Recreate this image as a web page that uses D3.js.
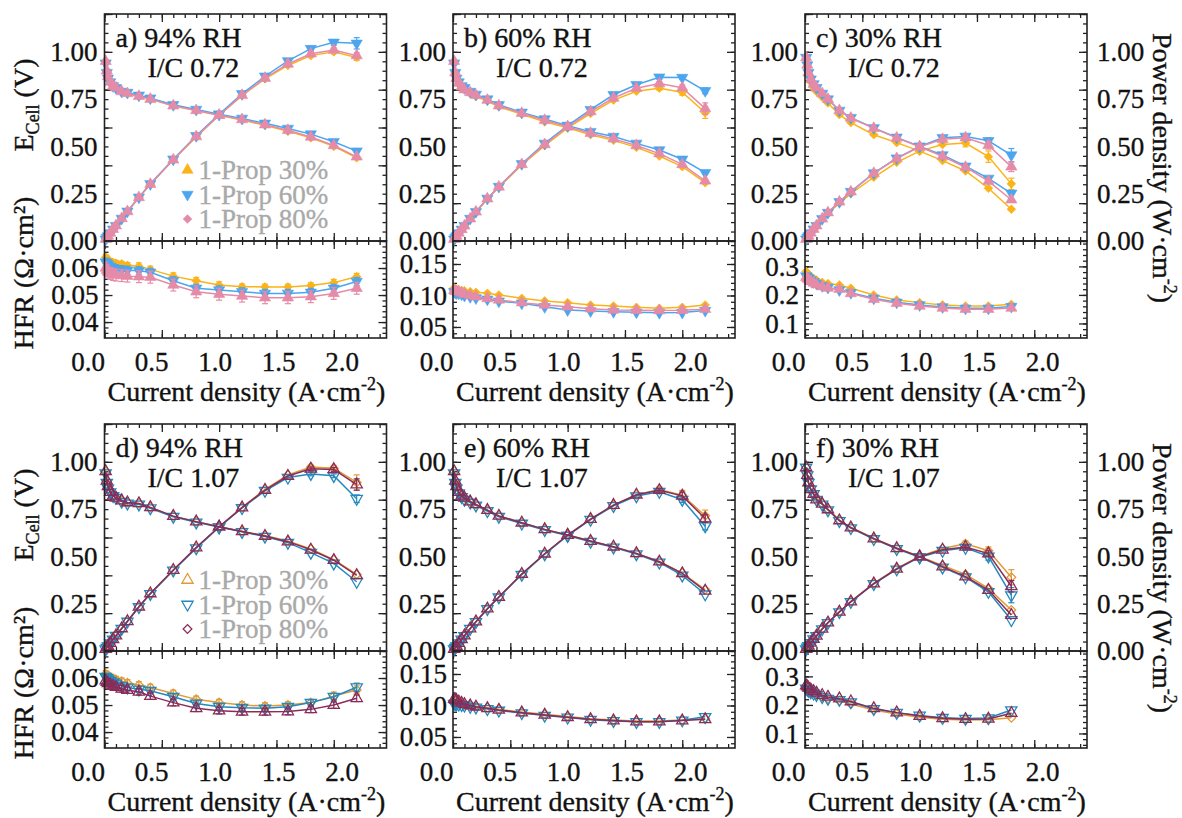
<!DOCTYPE html>
<html lang="en">
<head>
<meta charset="UTF-8">
<title>Polarization, power density and HFR</title>
<script src="https://d3js.org/d3.v7.min.js"></script>
<style>
  body { margin: 0; background: #fff; }
  svg text { font-family: "Liberation Serif", serif; fill: #111; stroke: #111; stroke-width: 0.35px; }
  svg text.legend-text { fill: #a9a9a9; stroke: #a9a9a9; }
</style>
</head>
<body>
<svg id="chart" width="1182" height="818" font-family="Liberation Serif"></svg>
<script>
// current densities (A cm-2)
const CURRENT_FULL = [0.01, 0.02, 0.03, 0.05, 0.075, 0.1, 0.15, 0.2, 0.3, 0.4, 0.6, 0.8, 1.0, 1.2, 1.4, 1.6, 1.8, 2.0, 2.2];
const CURRENT_SHORT = [0.01, 0.02, 0.03, 0.05, 0.075, 0.1, 0.15, 0.2, 0.3, 0.4, 0.6, 0.8, 1.0, 1.2, 1.4, 1.6, 1.8];

const SERIES = ["1-Prop 30%", "1-Prop 60%", "1-Prop 80%"];
const COLORS_TOP = ["#fbb317", "#4ba5ef", "#e68ba7"];
const COLORS_BOTTOM = ["#e29a36", "#2388be", "#8a2c58"];

// a) 94% RH, I/C 0.72
const A_E30 = [0.95, 0.90, 0.87, 0.84, 0.82, 0.81, 0.79, 0.78, 0.765, 0.75, 0.715, 0.69, 0.665, 0.64, 0.612, 0.58, 0.545, 0.50, 0.44];
const A_E60 = [0.94, 0.89, 0.86, 0.84, 0.82, 0.81, 0.79, 0.785, 0.77, 0.755, 0.72, 0.695, 0.67, 0.648, 0.622, 0.595, 0.565, 0.525, 0.475];
const A_E80 = [0.95, 0.90, 0.87, 0.84, 0.82, 0.81, 0.79, 0.78, 0.765, 0.75, 0.715, 0.69, 0.665, 0.642, 0.615, 0.585, 0.55, 0.505, 0.445];
const A_P30 = [0.0095, 0.018, 0.026, 0.042, 0.062, 0.081, 0.119, 0.156, 0.23, 0.30, 0.43, 0.55, 0.665, 0.77, 0.857, 0.928, 0.98, 1.00, 0.97];
const A_P60 = [0.0094, 0.018, 0.026, 0.042, 0.062, 0.081, 0.119, 0.157, 0.231, 0.302, 0.432, 0.556, 0.67, 0.778, 0.871, 0.952, 1.017, 1.05, 1.045];
const A_P80 = [0.0095, 0.018, 0.026, 0.042, 0.062, 0.081, 0.119, 0.156, 0.23, 0.30, 0.429, 0.552, 0.665, 0.77, 0.861, 0.936, 0.99, 1.01, 0.98];
const A_H30 = [0.0640, 0.0635, 0.0630, 0.0625, 0.0620, 0.0618, 0.0615, 0.0610, 0.0607, 0.0595, 0.0570, 0.0553, 0.0537, 0.0531, 0.0530, 0.0530, 0.0535, 0.0546, 0.0568];
const A_H60 = [0.0622, 0.0618, 0.0612, 0.0606, 0.0600, 0.0597, 0.0594, 0.0592, 0.0590, 0.0584, 0.0553, 0.0525, 0.0519, 0.0512, 0.0506, 0.0506, 0.0510, 0.0525, 0.0550];
const A_H80 = [0.0600, 0.0592, 0.0585, 0.0580, 0.0576, 0.0574, 0.0572, 0.0570, 0.0568, 0.0566, 0.0537, 0.0512, 0.0503, 0.0496, 0.0490, 0.0490, 0.0494, 0.0506, 0.0525];
const A_HERR30 = [0.001, 0.001, 0.001, 0.001, 0.001, 0.001, 0.001, 0.001, 0.0012, 0.0012, 0.0012, 0.0012, 0.0012, 0.001, 0.001, 0.001, 0.001, 0.0012, 0.0012];
const A_HERR60 = [0.0015, 0.0015, 0.0015, 0.0015, 0.0015, 0.0015, 0.0015, 0.0015, 0.0015, 0.0015, 0.0015, 0.0015, 0.0015, 0.0015, 0.0015, 0.0015, 0.0015, 0.0015, 0.0015];
const A_HERR80 = [0.0022, 0.0022, 0.0022, 0.0022, 0.0022, 0.0022, 0.0022, 0.0022, 0.0022, 0.0022, 0.0022, 0.0022, 0.0022, 0.0022, 0.0022, 0.0022, 0.0022, 0.0022, 0.0022];
const A_PERR = [[0.01, 0.01, 0.015], [0.01, 0.015, 0.03], [0.01, 0.01, 0.015]];

// b) 60% RH, I/C 0.72
const B_E30 = [0.95, 0.89, 0.86, 0.83, 0.81, 0.80, 0.78, 0.765, 0.74, 0.71, 0.67, 0.63, 0.598, 0.562, 0.532, 0.495, 0.449, 0.393, 0.308];
const B_E60 = [0.94, 0.89, 0.86, 0.84, 0.82, 0.81, 0.79, 0.775, 0.75, 0.72, 0.68, 0.645, 0.61, 0.578, 0.552, 0.516, 0.481, 0.432, 0.361];
const B_E80 = [0.95, 0.89, 0.86, 0.835, 0.815, 0.80, 0.785, 0.77, 0.745, 0.715, 0.675, 0.638, 0.604, 0.57, 0.54, 0.505, 0.462, 0.405, 0.318];
const B_P30 = [0.0095, 0.0178, 0.0258, 0.0415, 0.0608, 0.08, 0.117, 0.153, 0.222, 0.284, 0.402, 0.504, 0.598, 0.674, 0.745, 0.792, 0.808, 0.786, 0.678];
const B_P60 = [0.0094, 0.0178, 0.0258, 0.042, 0.0615, 0.081, 0.1185, 0.155, 0.225, 0.288, 0.408, 0.516, 0.61, 0.694, 0.773, 0.826, 0.866, 0.864, 0.794];
const B_P80 = [0.0095, 0.0178, 0.0258, 0.0418, 0.0611, 0.08, 0.1178, 0.154, 0.2235, 0.286, 0.405, 0.51, 0.604, 0.684, 0.756, 0.808, 0.832, 0.81, 0.70];
const B_H30 = [0.112, 0.111, 0.110, 0.109, 0.108, 0.1075, 0.106, 0.105, 0.1035, 0.1008, 0.0955, 0.0913, 0.0886, 0.0849, 0.0833, 0.0812, 0.0797, 0.0812, 0.0849];
const B_H60 = [0.106, 0.105, 0.104, 0.1035, 0.102, 0.100, 0.098, 0.096, 0.094, 0.091, 0.0876, 0.082, 0.077, 0.0755, 0.0743, 0.0735, 0.0727, 0.073, 0.076];
const B_H80 = [0.108, 0.107, 0.1065, 0.106, 0.104, 0.102, 0.100, 0.098, 0.0953, 0.093, 0.0886, 0.085, 0.082, 0.079, 0.077, 0.0765, 0.076, 0.0765, 0.078];
const B_PERR = [[0.01, 0.015, 0.03], [0.01, 0.01, 0.015], [0.01, 0.015, 0.03]];

// c) 30% RH, I/C 0.72
const C_E30 = [0.96, 0.92, 0.88, 0.84, 0.81, 0.79, 0.76, 0.73, 0.668, 0.626, 0.562, 0.52, 0.475, 0.425, 0.37, 0.279, 0.168];
const C_E60 = [0.97, 0.93, 0.89, 0.855, 0.83, 0.81, 0.78, 0.75, 0.69, 0.652, 0.598, 0.548, 0.50, 0.455, 0.395, 0.331, 0.252];
const C_E80 = [0.97, 0.93, 0.89, 0.855, 0.83, 0.81, 0.78, 0.75, 0.69, 0.65, 0.596, 0.545, 0.498, 0.448, 0.39, 0.316, 0.218];
const C_P30 = [0.0096, 0.0184, 0.0264, 0.042, 0.0608, 0.079, 0.114, 0.146, 0.20, 0.25, 0.337, 0.416, 0.475, 0.51, 0.518, 0.446, 0.302];
const C_P60 = [0.0097, 0.0186, 0.0267, 0.0428, 0.0623, 0.081, 0.117, 0.15, 0.207, 0.261, 0.359, 0.438, 0.50, 0.546, 0.553, 0.53, 0.454];
const C_P80 = [0.0097, 0.0186, 0.0267, 0.0428, 0.0623, 0.081, 0.117, 0.15, 0.207, 0.26, 0.358, 0.436, 0.498, 0.538, 0.546, 0.506, 0.392];
const C_H30 = [0.282, 0.278, 0.273, 0.265, 0.258, 0.252, 0.244, 0.24, 0.235, 0.2235, 0.20, 0.1825, 0.173, 0.165, 0.161, 0.161, 0.167];
const C_H60 = [0.266, 0.262, 0.258, 0.252, 0.246, 0.24, 0.232, 0.226, 0.2175, 0.208, 0.188, 0.174, 0.165, 0.158, 0.153, 0.153, 0.159];
const C_H80 = [0.262, 0.258, 0.254, 0.248, 0.242, 0.236, 0.229, 0.224, 0.22, 0.205, 0.185, 0.171, 0.161, 0.154, 0.150, 0.150, 0.154];
const C_PERR = [[0.02, 0.03, 0.03], [0.01, 0.015, 0.035], [0.015, 0.02, 0.025]];

// d) 94% RH, I/C 1.07
const D_E30 = [0.95, 0.90, 0.87, 0.84, 0.82, 0.81, 0.795, 0.785, 0.78, 0.759, 0.713, 0.684, 0.657, 0.633, 0.61, 0.582, 0.54, 0.483, 0.405];
const D_E60 = [0.94, 0.89, 0.86, 0.84, 0.82, 0.81, 0.79, 0.78, 0.775, 0.755, 0.71, 0.68, 0.655, 0.63, 0.605, 0.573, 0.52, 0.463, 0.366];
const D_E80 = [0.95, 0.90, 0.87, 0.84, 0.82, 0.81, 0.795, 0.785, 0.78, 0.759, 0.713, 0.684, 0.657, 0.632, 0.608, 0.578, 0.535, 0.48, 0.40];
const D_P30 = [0.0095, 0.018, 0.0261, 0.042, 0.0615, 0.081, 0.119, 0.157, 0.234, 0.304, 0.428, 0.547, 0.657, 0.76, 0.854, 0.931, 0.972, 0.966, 0.891];
const D_P60 = [0.0094, 0.0178, 0.0258, 0.042, 0.0615, 0.081, 0.1185, 0.156, 0.2325, 0.302, 0.426, 0.544, 0.655, 0.756, 0.847, 0.917, 0.936, 0.926, 0.805];
const D_P80 = [0.0095, 0.018, 0.0261, 0.042, 0.0615, 0.081, 0.119, 0.157, 0.234, 0.304, 0.428, 0.547, 0.657, 0.758, 0.851, 0.925, 0.963, 0.96, 0.88];
const D_H30 = [0.0615, 0.0612, 0.0608, 0.0602, 0.0598, 0.0594, 0.0588, 0.0582, 0.0574, 0.0565, 0.0543, 0.0521, 0.0509, 0.050, 0.0496, 0.050, 0.0509, 0.0533, 0.0556];
const D_H60 = [0.0605, 0.0600, 0.0595, 0.0590, 0.0585, 0.0580, 0.0572, 0.0565, 0.0558, 0.0553, 0.0531, 0.0506, 0.0494, 0.049, 0.0488, 0.0494, 0.0509, 0.0531, 0.0566];
const D_H80 = [0.0590, 0.0585, 0.0580, 0.0575, 0.0570, 0.0566, 0.0560, 0.0555, 0.0549, 0.0533, 0.0509, 0.0488, 0.0479, 0.0475, 0.0475, 0.0476, 0.0484, 0.050, 0.0525];
const D_HERR30 = [0.0012, 0.0012, 0.0012, 0.0012, 0.0012, 0.0012, 0.0012, 0.0012, 0.0012, 0.0012, 0.0012, 0.0012, 0.0012, 0.0012, 0.0012, 0.0012, 0.0012, 0.0015, 0.0015];
const D_HERR60 = [0.001, 0.001, 0.001, 0.001, 0.001, 0.001, 0.001, 0.001, 0.001, 0.001, 0.001, 0.001, 0.001, 0.001, 0.001, 0.001, 0.001, 0.0012, 0.0015];
const D_HERR80 = [0.0012, 0.0012, 0.0012, 0.0012, 0.0012, 0.0012, 0.0012, 0.0012, 0.0012, 0.0012, 0.0012, 0.0012, 0.0012, 0.0012, 0.0012, 0.0012, 0.0012, 0.0012, 0.0012];
const D_PERR = [[0.01, 0.015, 0.04], [0.01, 0.01, 0.02], [0.01, 0.01, 0.03]];

// e) 60% RH, I/C 1.07
const E_E30 = [0.95, 0.90, 0.87, 0.84, 0.82, 0.81, 0.79, 0.775, 0.745, 0.714, 0.678, 0.643, 0.613, 0.581, 0.551, 0.516, 0.474, 0.412, 0.325];
const E_E60 = [0.94, 0.89, 0.86, 0.835, 0.815, 0.80, 0.785, 0.77, 0.74, 0.71, 0.674, 0.64, 0.61, 0.578, 0.548, 0.512, 0.468, 0.40, 0.30];
const E_E80 = [0.95, 0.90, 0.87, 0.84, 0.82, 0.81, 0.79, 0.775, 0.745, 0.714, 0.678, 0.643, 0.613, 0.581, 0.551, 0.516, 0.472, 0.41, 0.318];
const E_P30 = [0.0095, 0.018, 0.0261, 0.042, 0.0615, 0.081, 0.1185, 0.155, 0.2235, 0.2856, 0.407, 0.514, 0.613, 0.697, 0.771, 0.826, 0.853, 0.824, 0.715];
const E_P60 = [0.0094, 0.0178, 0.0258, 0.0418, 0.0611, 0.08, 0.1178, 0.154, 0.222, 0.284, 0.404, 0.512, 0.61, 0.694, 0.767, 0.819, 0.842, 0.80, 0.66];
const E_P80 = [0.0095, 0.018, 0.0261, 0.042, 0.0615, 0.081, 0.1185, 0.155, 0.2235, 0.2856, 0.407, 0.514, 0.613, 0.697, 0.771, 0.826, 0.85, 0.82, 0.70];
const E_H30 = [0.108, 0.107, 0.106, 0.105, 0.104, 0.103, 0.101, 0.099, 0.0965, 0.094, 0.0895, 0.086, 0.0825, 0.079, 0.077, 0.0755, 0.0755, 0.077, 0.079];
const E_H60 = [0.103, 0.1025, 0.102, 0.1015, 0.101, 0.100, 0.098, 0.097, 0.0945, 0.092, 0.088, 0.084, 0.081, 0.0775, 0.0755, 0.074, 0.074, 0.0765, 0.082];
const E_H80 = [0.110, 0.109, 0.108, 0.106, 0.104, 0.102, 0.100, 0.098, 0.0955, 0.0929, 0.0886, 0.085, 0.0813, 0.078, 0.076, 0.0743, 0.0743, 0.076, 0.078];
const E_PERR = [[0.015, 0.025, 0.03], [0.01, 0.015, 0.02], [0.01, 0.02, 0.02]];

// f) 30% RH, I/C 1.07
const F_E30 = [0.97, 0.93, 0.89, 0.855, 0.83, 0.81, 0.78, 0.75, 0.692, 0.654, 0.596, 0.545, 0.50, 0.452, 0.405, 0.331, 0.217];
const F_E60 = [0.97, 0.93, 0.89, 0.855, 0.83, 0.80, 0.775, 0.745, 0.688, 0.65, 0.592, 0.54, 0.496, 0.442, 0.39, 0.313, 0.164];
const F_E80 = [0.97, 0.93, 0.89, 0.855, 0.83, 0.80, 0.778, 0.748, 0.69, 0.652, 0.594, 0.543, 0.499, 0.446, 0.393, 0.322, 0.19];
const F_P30 = [0.0097, 0.0186, 0.0267, 0.0428, 0.0623, 0.081, 0.117, 0.15, 0.2076, 0.2616, 0.358, 0.436, 0.50, 0.542, 0.567, 0.53, 0.39];
const F_P60 = [0.0097, 0.0186, 0.0267, 0.0428, 0.0623, 0.08, 0.116, 0.149, 0.206, 0.26, 0.355, 0.432, 0.496, 0.530, 0.546, 0.50, 0.295];
const F_P80 = [0.0097, 0.0186, 0.0267, 0.0428, 0.0623, 0.08, 0.1167, 0.1496, 0.207, 0.261, 0.356, 0.434, 0.499, 0.535, 0.55, 0.515, 0.342];
const F_H30 = [0.262, 0.258, 0.254, 0.248, 0.242, 0.236, 0.229, 0.222, 0.215, 0.203, 0.182, 0.168, 0.157, 0.150, 0.147, 0.148, 0.155];
const F_H60 = [0.258, 0.254, 0.250, 0.245, 0.240, 0.235, 0.228, 0.222, 0.218, 0.210, 0.186, 0.173, 0.163, 0.155, 0.152, 0.154, 0.182];
const F_H80 = [0.268, 0.264, 0.26, 0.254, 0.248, 0.242, 0.234, 0.228, 0.222, 0.212, 0.188, 0.173, 0.161, 0.153, 0.150, 0.151, 0.171];
const F_PERR = [[0.015, 0.02, 0.04], [0.01, 0.02, 0.04], [0.01, 0.015, 0.03]];

// axis labels
const E_TICK_LABELS = [0, 0.25, 0.5, 0.75, 1.0];
const X_TICK_LABELS = [0, 0.5, 1.0, 1.5, 2.0];
const HFR_TICK_LABELS = [[0.04, 0.05, 0.06], [0.05, 0.10, 0.15], [0.1, 0.2, 0.3]];
const HFR_FORMATS = [".2f", ".2f", ".1f"];
const HFR_DOMAINS = [[0.0341, 0.07], [0.0325, 0.1865], [0.049, 0.389]];
const HFR_MINOR = [0.002, 0.01, 0.02];

const PANELS = [
  { id: "a", rh: "94", ic: "0.72", row: 0, col: 0, x: CURRENT_FULL, E: [A_E30, A_E60, A_E80], P: [A_P30, A_P60, A_P80], H: [A_H30, A_H60, A_H80], herr: [A_HERR30, A_HERR60, A_HERR80], perr: A_PERR },
  { id: "b", rh: "60", ic: "0.72", row: 0, col: 1, x: CURRENT_FULL, E: [B_E30, B_E60, B_E80], P: [B_P30, B_P60, B_P80], H: [B_H30, B_H60, B_H80], herr: null, perr: B_PERR },
  { id: "c", rh: "30", ic: "0.72", row: 0, col: 2, x: CURRENT_SHORT, E: [C_E30, C_E60, C_E80], P: [C_P30, C_P60, C_P80], H: [C_H30, C_H60, C_H80], herr: null, perr: C_PERR },
  { id: "d", rh: "94", ic: "1.07", row: 1, col: 0, x: CURRENT_FULL, E: [D_E30, D_E60, D_E80], P: [D_P30, D_P60, D_P80], H: [D_H30, D_H60, D_H80], herr: [D_HERR30, D_HERR60, D_HERR80], perr: D_PERR },
  { id: "e", rh: "60", ic: "1.07", row: 1, col: 1, x: CURRENT_FULL, E: [E_E30, E_E60, E_E80], P: [E_P30, E_P60, E_P80], H: [E_H30, E_H60, E_H80], herr: null, perr: E_PERR },
  { id: "f", rh: "30", ic: "1.07", row: 1, col: 2, x: CURRENT_SHORT, E: [F_E30, F_E60, F_E80], P: [F_P30, F_P60, F_P80], H: [F_H30, F_H60, F_H80], herr: null, perr: F_PERR }
];

// layout
const PANEL_LEFT = [104.5, 453, 805];
const ROW_TOP = [14, 424];
const PW = 282, TOP_H = 227, HFR_H = 97;
const FONT = 27;

const svg = d3.select("#chart");
svg.append("rect").attr("width", 1182).attr("height", 818).attr("fill", "#fff");

// marker paths
const triPath = d3.symbol(d3.symbolTriangle, 55)();
const sqPath = d3.symbol(d3.symbolSquare, 38)();
const MARKS = {
  up: { d: triPath, rot: 0 },
  down: { d: triPath, rot: 180 },
  diamond: { d: sqPath, rot: 45 }
};
const PLOT_MARKS = ["diamond", "down", "up"];
const LEGEND_MARKS = ["up", "down", "diamond"];

function drawMarker(g, kind, cx, cy, color, hollow) {
  const m = MARKS[kind];
  g.append("path")
    .attr("d", m.d)
    .attr("transform", `translate(${cx},${cy}) rotate(${m.rot})`)
    .attr("fill", hollow ? "none" : color)
    .attr("stroke", color)
    .attr("stroke-width", hollow ? 1.3 : 0.6);
}

// inward ticks on all four sides of a frame
function frameTicks(g, x, y, xMajor, xMinor, yMajor, yMinor) {
  const [x0, x1] = x.range();
  const [y0, y1] = y.range();
  const sides = [
    [() => d3.axisBottom(x), `translate(0,${y0})`, xMajor, xMinor],
    [() => d3.axisTop(x), `translate(0,${y1})`, xMajor, xMinor],
    [() => d3.axisLeft(y), `translate(${x0},0)`, yMajor, yMinor],
    [() => d3.axisRight(y), `translate(${x1},0)`, yMajor, yMinor]
  ];
  sides.forEach(([mk, tr, maj, min]) => {
    [[min, 4], [maj, 8]].forEach(([vals, len]) => {
      g.append("g")
        .attr("transform", tr)
        .attr("color", "#222")
        .call(mk().tickValues(vals).tickSizeInner(-len).tickSizeOuter(0).tickFormat(""))
        .call(s => s.select(".domain").remove())
        .call(s => s.selectAll("line").attr("stroke-width", 1.3));
    });
  });
}

function styleLabels(s) {
  s.select(".domain").remove();
  s.attr("font-size", FONT).attr("font-family", "Liberation Serif");
}

function drawPanel(p) {
  const left = PANEL_LEFT[p.col], top = ROW_TOP[p.row];
  const colors = p.row === 0 ? COLORS_TOP : COLORS_BOTTOM;
  const hollow = p.row === 1;
  const g = svg.append("g");

  const x = d3.scaleLinear().domain([0, 2.46]).range([left, left + PW]);
  const xLab = d3.scaleLinear().domain([0, 2]).range([left - 17, left + 237]);
  const y = d3.scaleLinear().domain([0, 1.2]).range([top + TOP_H, top]);
  const yH = d3.scaleLinear().domain(HFR_DOMAINS[p.col]).range([top + TOP_H + HFR_H, top + TOP_H]);

  const xMajor = [0, 0.5, 1.0, 1.5, 2.0];
  const xMinor = d3.range(0, 2.46, 0.1);
  const yMajor = d3.range(0, 1.21, 0.2);
  const yMinor = d3.range(0, 1.21, 0.05);
  const hd = HFR_DOMAINS[p.col], hs = HFR_MINOR[p.col];
  const hMinor = d3.range(Math.ceil(hd[0] / hs) * hs, hd[1], hs);

  frameTicks(g, x, y, xMajor, xMinor, yMajor, yMinor);
  frameTicks(g, x, yH, xMajor, xMinor, HFR_TICK_LABELS[p.col], hMinor);

  // data
  const line = (xs, ys, ysc) => d3.line().x((d, i) => x(xs[i])).y(d => ysc(d))(ys);
  const last = p.x.length - 1;
  [0, 1, 2].forEach(si => {
    const c = colors[si];
    const sg = g.append("g");
    [[p.E[si], y], [p.P[si], y], [p.H[si], yH]].forEach(([vals, ysc]) => {
      sg.append("path").attr("d", line(p.x, vals, ysc))
        .attr("fill", "none").attr("stroke", c).attr("stroke-width", 1.5);
    });
    // error bars
    const bars = [];
    p.perr[si].forEach((e, k) => {
      const idx = last - 2 + k;
      bars.push([p.x[idx], p.P[si][idx], e, y]);
    });
    if (p.herr) p.herr[si].forEach((e, idx) => bars.push([p.x[idx], p.H[si][idx], e, yH]));
    bars.forEach(([xv, yv, e, ysc]) => {
      const cx = x(xv);
      sg.append("line").attr("x1", cx).attr("x2", cx)
        .attr("y1", ysc(yv - e)).attr("y2", ysc(yv + e))
        .attr("stroke", c).attr("stroke-width", 1.2);
      [yv - e, yv + e].forEach(v => {
        sg.append("line").attr("x1", cx - 3).attr("x2", cx + 3)
          .attr("y1", ysc(v)).attr("y2", ysc(v))
          .attr("stroke", c).attr("stroke-width", 1.2);
      });
    });
    [[p.E[si], y], [p.P[si], y], [p.H[si], yH]].forEach(([vals, ysc]) => {
      vals.forEach((v, i) => drawMarker(sg, PLOT_MARKS[si], x(p.x[i]), ysc(v), c, hollow));
    });
  });

  // frames
  g.append("rect").attr("x", left).attr("y", top).attr("width", PW).attr("height", TOP_H)
    .attr("fill", "none").attr("stroke", "#222").attr("stroke-width", 1.6);
  g.append("rect").attr("x", left).attr("y", top + TOP_H).attr("width", PW).attr("height", HFR_H)
    .attr("fill", "none").attr("stroke", "#222").attr("stroke-width", 1.6);

  // tick labels
  g.append("g").attr("transform", `translate(${left},0)`)
    .call(d3.axisLeft(y).tickValues(E_TICK_LABELS).tickFormat(d3.format(".2f")).tickSize(0).tickPadding(7))
    .call(styleLabels);
  g.append("g").attr("transform", `translate(${left},0)`)
    .call(d3.axisLeft(yH).tickValues(HFR_TICK_LABELS[p.col]).tickFormat(d3.format(HFR_FORMATS[p.col])).tickSize(0).tickPadding(6))
    .call(styleLabels);
  g.append("g").attr("transform", `translate(0,${top + TOP_H + HFR_H})`)
    .call(d3.axisBottom(xLab).tickValues(X_TICK_LABELS).tickFormat(d3.format(".1f")).tickSize(0).tickPadding(14))
    .call(styleLabels);
  if (p.col === 2) {
    g.append("g").attr("transform", `translate(${left + PW},0)`)
      .call(d3.axisRight(y).tickValues(E_TICK_LABELS).tickFormat(d3.format(".2f")).tickSize(0).tickPadding(10))
      .call(styleLabels);
  }

  // x title
  const xt = g.append("text").attr("x", left + 142).attr("y", top + TOP_H + HFR_H + 63)
    .attr("text-anchor", "middle").attr("font-size", 28);
  xt.append("tspan").text("Current density (A·cm");
  xt.append("tspan").attr("dy", -11).attr("font-size", 18).text("-2");
  xt.append("tspan").attr("dy", 11).text(")");

  // panel label
  g.append("text").attr("x", left + 11).attr("y", top + 33).attr("font-size", 28)
    .text(`${p.id}) ${p.rh}% RH`);
  g.append("text").attr("x", left + 43).attr("y", top + 63).attr("font-size", 28)
    .text(`I/C ${p.ic}`);

  // legend
  if (p.col === 0) {
    SERIES.forEach((name, si) => {
      const cy = top + 156 + si * 24.5;
      drawMarker(g, LEGEND_MARKS[si], left + 83, cy, colors[si], hollow);
      g.append("text").attr("class", "legend-text").attr("x", left + 94).attr("y", cy).attr("dy", "0.35em")
        .attr("font-size", FONT).text(name);
    });
  }
}

PANELS.forEach(drawPanel);

// left and right axis titles
ROW_TOP.forEach(top => {
  const off = top - ROW_TOP[0];
  const e = svg.append("text").attr("transform", `translate(33,${105 + off}) rotate(-90)`)
    .attr("text-anchor", "middle").attr("font-size", 28);
  e.append("tspan").text("E");
  e.append("tspan").attr("dy", 6).attr("font-size", 18).text("Cell");
  e.append("tspan").attr("dy", -6).text(" (V)");

  svg.append("text").attr("transform", `translate(33,${273 + off}) rotate(-90)`)
    .attr("text-anchor", "middle").attr("font-size", 28).text("HFR (Ω·cm²)");

  const pw = svg.append("text").attr("transform", `translate(1153,${168 + off}) rotate(90)`)
    .attr("text-anchor", "middle").attr("font-size", 28);
  pw.append("tspan").text("Power density (W·cm");
  pw.append("tspan").attr("dy", -11).attr("font-size", 18).text("-2");
  pw.append("tspan").attr("dy", 11).text(")");
});
</script>
</body>
</html>
